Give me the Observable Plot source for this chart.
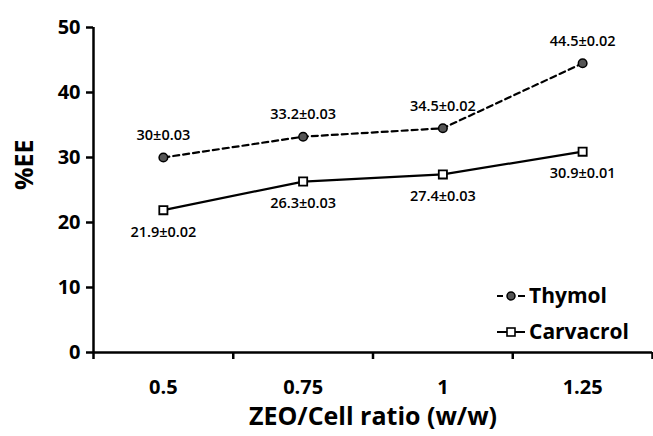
<!DOCTYPE html>
<html><head><meta charset="utf-8">
<script src="https://cdn.jsdelivr.net/npm/d3@7"></script>
<script src="https://cdn.jsdelivr.net/npm/@observablehq/plot@0.6"></script>
<style>
body{margin:0;background:#fff;}
#chart{position:relative;width:653px;height:436px;font-family:"Open Sans",Lato,sans-serif;}
#legend{position:absolute;left:496px;top:277px;font-size:21px;font-weight:bold;color:#000;line-height:36px;}
#legend div{display:flex;align-items:center;height:36px;}
#legend svg{margin-right:3px;}
</style>
</head><body>
<div id="chart"></div>
<script>
const ratios = [0.5, 0.75, 1, 1.25];
const ratioLabels = ["0.5", "0.75", "1", "1.25"];
const thymol = [30, 33.2, 34.5, 44.5];
const thymolSD = ["0.03", "0.03", "0.02", "0.02"];
const carvacrol = [21.9, 26.3, 27.4, 30.9];
const carvacrolSD = ["0.02", "0.03", "0.03", "0.01"];
const yTicks = [0, 10, 20, 30, 40, 50];
const xTickEdges = [0.375, 0.625, 0.875, 1.125, 1.375];
const xTitle = "ZEO/Cell ratio (w/w)";
const yTitle = "%EE";

const th = ratios.map((r, i) => ({x: r, y: thymol[i], t: `${thymol[i]}±${thymolSD[i]}`}));
const ca = ratios.map((r, i) => ({x: r, y: carvacrol[i], t: `${carvacrol[i]}±${carvacrolSD[i]}`}));

const plot = Plot.plot({
  width: 653, height: 436,
  marginLeft: 93, marginRight: 1, marginTop: 27, marginBottom: 84,
  style: {fontFamily: "'Open Sans', Lato, sans-serif", background: "white", color: "#000"},
  x: {domain: [xTickEdges[0], xTickEdges[xTickEdges.length - 1]]},
  y: {domain: [0, 50]},
  marks: [
    Plot.axisY({ticks: yTicks, tickSize: 7, tickPadding: 6, fontSize: 20, fontWeight: "bold", strokeWidth: 2.5, label: null}),
    Plot.axisX({ticks: ratios, tickSize: 0, tickPadding: 27, tickFormat: (d, i) => ratioLabels[i], fontSize: 20, fontWeight: "bold", label: null}),
    Plot.axisX({ticks: xTickEdges, tickSize: 7, tickFormat: () => "", strokeWidth: 2.5, label: null}),
    Plot.ruleX([xTickEdges[0]], {stroke: "black", strokeWidth: 2.5}),
    Plot.ruleY([0], {stroke: "black", strokeWidth: 2.5}),
    Plot.line(th, {x: "x", y: "y", stroke: "black", strokeWidth: 2.2, strokeDasharray: "6,4"}),
    Plot.line(ca, {x: "x", y: "y", stroke: "black", strokeWidth: 2.2}),
    Plot.dot(th, {x: "x", y: "y", r: 4.3, fill: "#555", stroke: "black", strokeWidth: 1.5}),
    Plot.dot(ca, {x: "x", y: "y", r: 4.6, symbol: "square", fill: "white", stroke: "black", strokeWidth: 1.8}),
    Plot.text(th, {x: "x", y: "y", text: "t", dy: -22, fontSize: 14.5, fontWeight: 600, fill: "#000"}),
    Plot.text(ca, {x: "x", y: "y", text: "t", dy: 22, fontSize: 14.5, fontWeight: 600, fill: "#000"}),
    Plot.text([xTitle], {frameAnchor: "bottom", dy: 72, text: d => d, fontSize: 25, fontWeight: "bold", fill: "#000"}),
    Plot.text([yTitle], {frameAnchor: "left", dx: -69, rotate: -90, text: d => d, fontSize: 25, fontWeight: "bold", fill: "#000"})
  ]
});
const chart = document.getElementById("chart");
chart.appendChild(plot);

const legendItems = [
  {label: "Thymol", dash: "5,3", symbol: "circle"},
  {label: "Carvacrol", dash: null, symbol: "square"}
];
const legend = document.createElement("div");
legend.id = "legend";
for (const it of legendItems) {
  const row = document.createElement("div");
  const sym = it.symbol === "circle"
    ? `<circle cx="15" cy="12" r="4" fill="#555" stroke="black" stroke-width="1.5"/>`
    : `<rect x="11" y="8" width="8" height="8" fill="white" stroke="black" stroke-width="1.6"/>`;
  const line = it.dash
    ? `<line x1="1" y1="12" x2="7" y2="12" stroke="black" stroke-width="2"/><line x1="22" y1="12" x2="29" y2="12" stroke="black" stroke-width="2"/>`
    : `<line x1="1" y1="12" x2="29" y2="12" stroke="black" stroke-width="2"/>`;
  row.innerHTML = `<svg width="30" height="22">${line}${sym}</svg><span>${it.label}</span>`;
  legend.appendChild(row);
}
chart.appendChild(legend);
</script>
</body></html>
